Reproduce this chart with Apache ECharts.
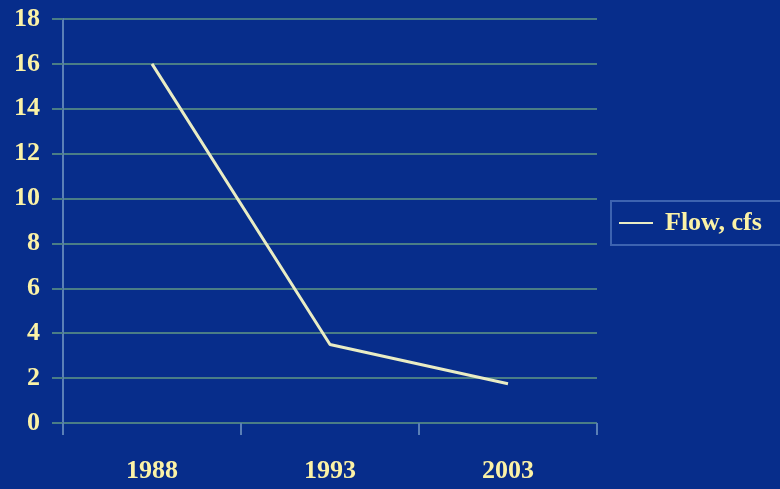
<!DOCTYPE html>
<html><head><meta charset="utf-8">
<script src="https://cdn.jsdelivr.net/npm/echarts@6/dist/echarts.min.js"></script>
<style>html,body{margin:0;padding:0;background:#072d8b;}#c{width:780px;height:489px;}</style>
</head><body><div id="c"></div>
<script>
const categories = ['1988', '1993', '2003'];
const flowValues = [16, 3.5, 1.75];
const seriesName = 'Flow, cfs';

const textColor = '#fbf2a6';
const gridColor = '#4a7d86';
const fontFam = '"Liberation Serif", "DejaVu Serif", serif';
const chart = echarts.init(document.getElementById('c'));
chart.setOption({
  backgroundColor: '#072d8b',
  animation: false,
  grid: { left: 63, right: 183, top: 19, bottom: 66 },
  legend: {
    data: [{ name: seriesName, icon: 'rect' }],
    left: 611, top: 201,
    orient: 'vertical',
    borderColor: '#3d63b0', borderWidth: 2,
    padding: [9, 40, 9, 8],
    itemWidth: 34, itemHeight: 2,
    textStyle: { color: textColor, fontFamily: fontFam, fontWeight: 'bold', fontSize: 26, padding: [0, 0, 0, 7] }
  },
  xAxis: {
    type: 'category', data: categories, boundaryGap: true,
    axisLine: { show: false },
    axisTick: { show: true, length: 12, inside: false, lineStyle: { color: '#5a7fb6', width: 2 } },
    axisLabel: { color: textColor, fontFamily: fontFam, fontWeight: 'bold', fontSize: 26, margin: 35 },
    splitLine: { show: false }
  },
  yAxis: {
    type: 'value', min: 0, max: 18, interval: 2,
    axisLine: { show: true, lineStyle: { color: '#5a7fb6', width: 2 } },
    axisTick: { show: true, length: 11, lineStyle: { color: gridColor, width: 2 } },
    axisLabel: { color: textColor, fontFamily: fontFam, fontWeight: 'bold', fontSize: 26, margin: 23 },
    splitLine: { show: true, lineStyle: { color: gridColor, width: 2 } }
  },
  series: [{
    name: seriesName, type: 'line', data: flowValues,
    symbol: 'none',
    lineStyle: { color: '#e9ecc4', width: 3 },
    itemStyle: { color: '#e9ecc4' },
    z: 5
  }]
});
</script></body></html>
